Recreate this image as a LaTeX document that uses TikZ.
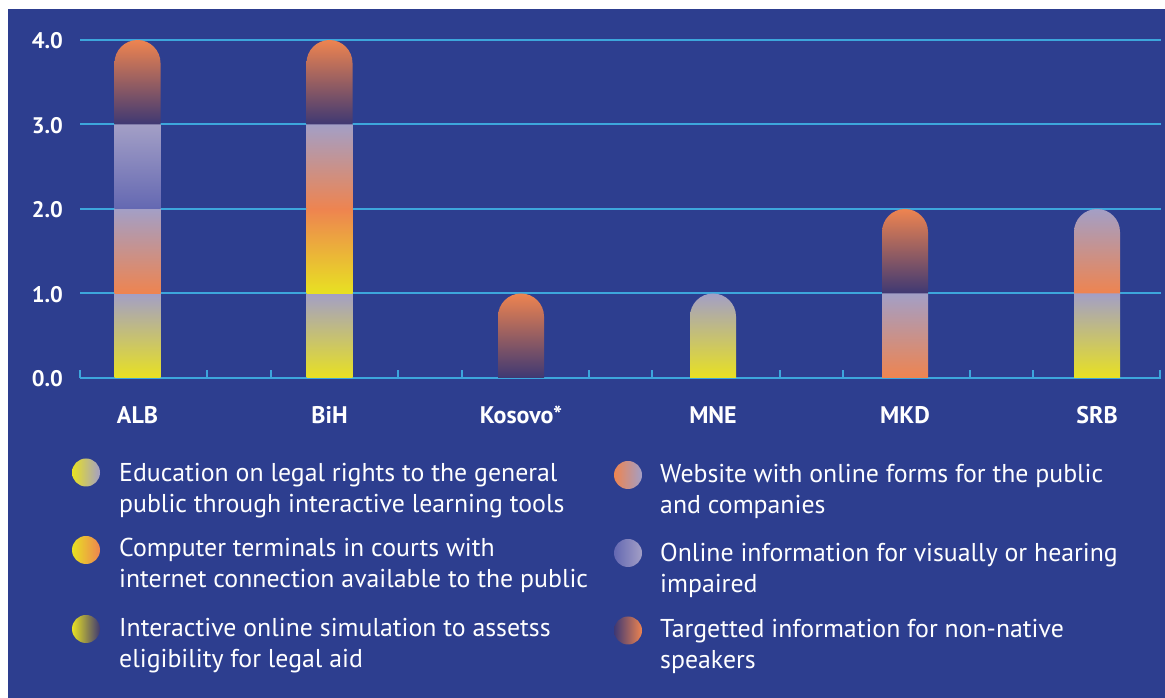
\documentclass[tikz,border=0pt]{standalone}
\usepackage{fontspec}
\setmainfont{PT Sans}
\definecolor{bgblue}{HTML}{2D3E8F}
\definecolor{gridblue}{HTML}{3DA6DC}
\definecolor{barYellow}{HTML}{E8E122}
\definecolor{barLavender}{HTML}{A39FC6}
\definecolor{barOrange}{HTML}{EE8450}
\definecolor{barDark}{HTML}{3E3873}
\definecolor{barBlue}{HTML}{6468B2}
\begin{document}
\begin{tikzpicture}[x=1pt,y=1pt,
    gridline/.style={color=gridblue, line width=2pt},
    ylabel/.style={anchor=east, inner sep=0pt, text=white, font=\bfseries\fontsize{22.5}{26}\selectfont},
    xlabel/.style={anchor=base, inner sep=0pt, text=white, font=\bfseries\fontsize{24}{28}\selectfont},
    legtext/.style={anchor=base west, align=left, inner sep=0pt, text=white, font=\fontsize{25.8}{31}\selectfont}]
    % Fondo
    \fill[white]  (0,0) rectangle (1165,698);
    \fill[bgblue] (8,0) rectangle (1165,689);
    % Lineas de rejilla
    \draw[gridline] (80,404.5) -- (1161,404.5);
    \draw[gridline] (80,489)   -- (1161,489);
    \draw[gridline] (80,573.5) -- (1161,573.5);
    \draw[gridline] (80,658)   -- (1161,658);
    % Eje X con marcas
    \draw[gridline] (80,320) -- (1161,320);
    \draw[gridline] (80,320) -- (80,328)   (207,320) -- (207,328)   (271,320) -- (271,328)
                    (398,320) -- (398,328) (461.5,320) -- (461.5,328) (589,320) -- (589,328)
                    (652,320) -- (652,328) (779.5,320) -- (779.5,328) (843,320) -- (843,328)
                    (970,320) -- (970,328) (1033,320) -- (1033,328) (1160,320) -- (1160,328);
    % Valores en eje y
    \node[ylabel] (y0) at (63,319) {0.0};
    \node[ylabel] (y1) at (63,403.5) {1.0};
    \node[ylabel] (y2) at (63,488) {2.0};
    \node[ylabel] (y3) at (63,572.5) {3.0};
    \node[ylabel] (y4) at (63,657) {4.0};
    % Barra ALB
    \shade[bottom color=barYellow, top color=barLavender] (114.5,320) rectangle (160.5,404.5);
    \shade[bottom color=barOrange, top color=barLavender] (114.5,404.5) rectangle (160.5,489);
    \shade[bottom color=barBlue, top color=barLavender]   (114.5,489) rectangle (160.5,573.5);
    \shade[bottom color=barDark, top color=barOrange]     (114.5,573.5) -- (114.5,635) arc[start angle=180, end angle=0, radius=23] -- (160.5,573.5) -- cycle;
    % Barra BiH
    \shade[bottom color=barYellow, top color=barLavender] (306.5,320) rectangle (352.5,404.5);
    \shade[bottom color=barYellow, top color=barOrange]   (306.5,404.5) rectangle (352.5,489);
    \shade[bottom color=barOrange, top color=barLavender] (306.5,489) rectangle (352.5,573.5);
    \shade[bottom color=barDark, top color=barOrange]     (306.5,573.5) -- (306.5,635) arc[start angle=180, end angle=0, radius=23] -- (352.5,573.5) -- cycle;
    % Barra Kosovo*
    \shade[bottom color=barDark, top color=barOrange]     (498,320) -- (498,381.5) arc[start angle=180, end angle=0, radius=23] -- (544,320) -- cycle;
    % Barra MNE
    \shade[bottom color=barYellow, top color=barLavender] (690,320) -- (690,381.5) arc[start angle=180, end angle=0, radius=23] -- (736,320) -- cycle;
    % Barra MKD
    \shade[bottom color=barOrange, top color=barLavender] (882,320) rectangle (928,404.5);
    \shade[bottom color=barDark, top color=barOrange]     (882,404.5) -- (882,466) arc[start angle=180, end angle=0, radius=23] -- (928,404.5) -- cycle;
    % Barra SRB
    \shade[bottom color=barYellow, top color=barLavender] (1074,320) rectangle (1120,404.5);
    \shade[bottom color=barOrange, top color=barLavender] (1074,404.5) -- (1074,466) arc[start angle=180, end angle=0, radius=23] -- (1120,404.5) -- cycle;
    % Valores en eje x
    \node[xlabel] (lblALB) at (137.5,274) {ALB};
    \node[xlabel] (lblBiH) at (329.5,274) {BiH};
    \node[xlabel] (lblKOS) at (521,274)   {Kosovo*};
    \node[xlabel] (lblMNE) at (713,274)   {MNE};
    \node[xlabel] (lblMKD) at (905,274)   {MKD};
    \node[xlabel] (lblSRB) at (1097,274)  {SRB};
    % Leyenda izquierda
    \shade[left color=barYellow, right color=barLavender] (86,225.5) circle (14);
    \shade[left color=barYellow, right color=barOrange]   (86,148) circle (14);
    \shade[left color=barYellow, right color=barDark]     (86,69) circle (14);
    \node[legtext] (legEdu)  at (119,185.3) {Education on legal rights to the general\\public through interactive learning tools};
    \node[legtext] (legComp) at (119,110)   {Computer terminals in courts with\\internet connection available to the public};
    \node[legtext] (legSim)  at (119,30.3)  {Interactive online simulation to assetss\\eligibility for legal aid};
    % Leyenda derecha
    \shade[left color=barOrange, right color=barLavender] (628,223) circle (14);
    \shade[left color=barBlue, right color=barLavender]   (628,145) circle (14);
    \shade[left color=barDark, right color=barOrange]     (628,67.5) circle (14);
    \node[legtext] (legWeb)  at (660,184)   {Website with online forms for the public\\and companies};
    \node[legtext] (legInfo) at (660,105)   {Online information for visually or hearing\\impaired};
    \node[legtext] (legLang) at (660,29.3)  {Targetted information for non-native\\speakers};
\end{tikzpicture}
\end{document}
